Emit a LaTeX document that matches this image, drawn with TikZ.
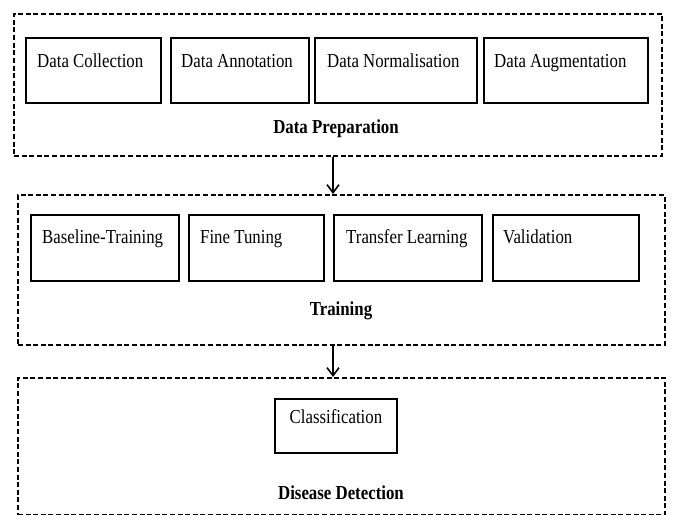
\documentclass[tikz,border=0pt]{standalone}
\usepackage{fontspec}
\setmainfont{Liberation Serif}[FakeStretch=0.85]
\usetikzlibrary{arrows.meta,calc}

\tikzset{
  stage/.style={draw=black, line width=1.8pt, dash pattern=on 5pt off 2.6pt,
                rectangle, inner sep=0pt, anchor=north west},
  stepbox/.style={draw=black, line width=1.8pt, rectangle, inner sep=0pt,
                  anchor=north west},
  boxtext/.style={anchor=base west, inner sep=0pt,
                  font=\fontsize{19.8}{23}\selectfont},
  stagetext/.style={anchor=base, inner sep=0pt,
                    font=\fontsize{19.8}{23}\selectfont\bfseries},
  flow/.style={line width=1.8pt, -{Straight Barb[length=8pt,width=12pt,line width=1.6pt]}}
}

\begin{document}
\begin{tikzpicture}[x=1pt, y=-1pt]
  \useasboundingbox (0,0) rectangle (674,514);

  % ---- Data Preparation stage ----
  \node[stage, minimum width=648pt, minimum height=142pt] (prep) at (13,13) {};
  \node[stepbox, minimum width=135pt, minimum height=65pt] (dc) at (25,37) {};
  \node[stepbox, minimum width=138pt, minimum height=65pt] (da) at (170,37) {};
  \node[stepbox, minimum width=162pt, minimum height=65pt] (dn) at (314,37) {};
  \node[stepbox, minimum width=164pt, minimum height=65pt] (dg) at (483,37) {};
  \node[boxtext] (dct) at ($(dc.north west)+(12,30)$) {Data Collection};
  \node[boxtext] (dat) at ($(da.north west)+(11,30)$) {Data Annotation};
  \node[boxtext] (dnt) at ($(dn.north west)+(13,30)$) {Data Normalisation};
  \node[boxtext] (dgt) at ($(dg.north west)+(11,30)$) {Data Augmentation};
  \node[stagetext] (prept) at (336,133) {Data Preparation};

  % ---- Training stage ----
  \node[stage, minimum width=647pt, minimum height=150pt] (train) at (17,194) {};
  \node[stepbox, minimum width=148pt, minimum height=66pt] (bt) at (30,214) {};
  \node[stepbox, minimum width=135pt, minimum height=66pt] (ft) at (188,214) {};
  \node[stepbox, minimum width=148pt, minimum height=66pt] (tl) at (333,214) {};
  \node[stepbox, minimum width=146pt, minimum height=66pt] (va) at (492,214) {};
  \node[boxtext] (btt) at ($(bt.north west)+(12,29)$) {Baseline-Training};
  \node[boxtext] (ftt) at ($(ft.north west)+(12,29)$) {Fine Tuning};
  \node[boxtext] (tlt) at ($(tl.north west)+(13,29)$) {Transfer Learning};
  \node[boxtext] (vat) at ($(va.north west)+(11,29)$) {Validation};
  \node[stagetext] (traint) at (341,315) {Training};

  % ---- Disease Detection stage (its lower edge runs along the page edge) ----
  \node[stage, minimum width=647pt, minimum height=137pt] (detect) at (17,377) {};
  \node[stepbox, minimum width=122pt, minimum height=54pt] (cl) at (274,398) {};
  \node[boxtext, anchor=base] (clt) at ($(cl.north)+(0,25)$) {Classification};
  \node[stagetext] (detectt) at (341,499) {Disease Detection};

  % ---- flow between stages ----
  \coordinate (axis) at (333,0);
  \draw[flow] (prep.south -| axis) -- (train.north -| axis);
  \draw[flow] (train.south -| axis) -- (detect.north -| axis);
\end{tikzpicture}
\end{document}
